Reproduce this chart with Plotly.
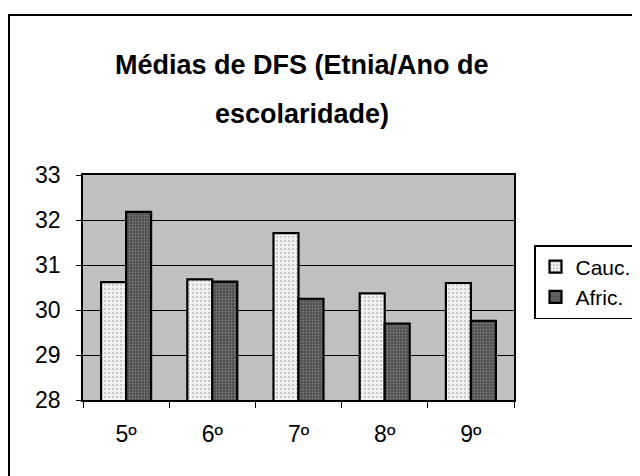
import plotly.graph_objects as go

# dados
anos = ["5º", "6º", "7º", "8º", "9º"]
cauc = [30.62, 30.68, 31.71, 30.37, 30.60]
afric = [32.18, 30.63, 30.25, 29.70, 29.76]

FONTE = "Arial, Liberation Sans, sans-serif"
# a página tem margem de 8px no browser -> compensar
OFF = 8
L, R, T, B = 83, 514, 175, 400   # área do gráfico em píxeis do ecrã
W, H = R - L, B - T

def px(xs):
    return (xs - L) / W

def py(ys):
    return (B - ys) / H

fig = go.Figure()
fig.add_trace(go.Bar(
    x=anos, y=cauc, name="Cauc.",
    marker=dict(color="#ececec", line=dict(color="black", width=2.2),
                pattern=dict(shape=".", fgcolor="#9a9a9a", bgcolor="#f2f2f2", size=4, solidity=0.25)),
))
fig.add_trace(go.Bar(
    x=anos, y=afric, name="Afric.",
    marker=dict(color="#5a5a5a", line=dict(color="black", width=2.2),
                pattern=dict(shape=".", fgcolor="#a8a8a8", bgcolor="#4e4e4e", size=3, solidity=0.35)),
))

# título em duas linhas (espaçamento largo como no Excel)
fig.add_annotation(text="<b>Médias de DFS (Etnia/Ano de</b>", xref="paper", yref="paper",
                   x=px(302), y=py(48), showarrow=False,
                   font=dict(family=FONTE, size=27, color="black"))
fig.add_annotation(text="<b>escolaridade)</b>", xref="paper", yref="paper",
                   x=px(302), y=py(97), showarrow=False,
                   font=dict(family=FONTE, size=27, color="black"))

# moldura exterior
fig.add_shape(type="rect", xref="paper", yref="paper",
              x0=px(9), x1=px(660), y0=py(500), y1=py(15),
              line=dict(color="black", width=2), layer="below")

fig.update_layout(
    width=640, height=476,
    margin=dict(l=L - OFF, r=640 - (R - OFF), t=T - OFF, b=476 - (B - OFF)),
    paper_bgcolor="white", plot_bgcolor="#c0c0c0",
    barmode="group", bargap=0.42, bargroupgap=0.0,
    font=dict(family=FONTE, size=23, color="black"),
    showlegend=True,
    legend=dict(xref="container", yref="container",
                x=(534 - OFF) / 640, y=1 - (245 - OFF) / 476,
                xanchor="left", yanchor="top",
                bgcolor="white", bordercolor="black", borderwidth=1.5,
                font=dict(size=21), traceorder="normal", itemwidth=30,
                tracegroupgap=0),
)
fig.update_xaxes(showline=True, linecolor="black", linewidth=1.5, mirror=True,
                 ticks="outside", tickson="boundaries", ticklen=6, tickcolor="black",
                 ticklabelstandoff=13, showgrid=False)
fig.update_yaxes(range=[28, 33], dtick=1, showline=True, linecolor="black", linewidth=1.5,
                 mirror=True, ticks="outside", ticklen=5, tickcolor="black",
                 ticklabelstandoff=11, showgrid=True, gridcolor="black", gridwidth=1,
                 zeroline=False)

fig.write_html("out.html")
